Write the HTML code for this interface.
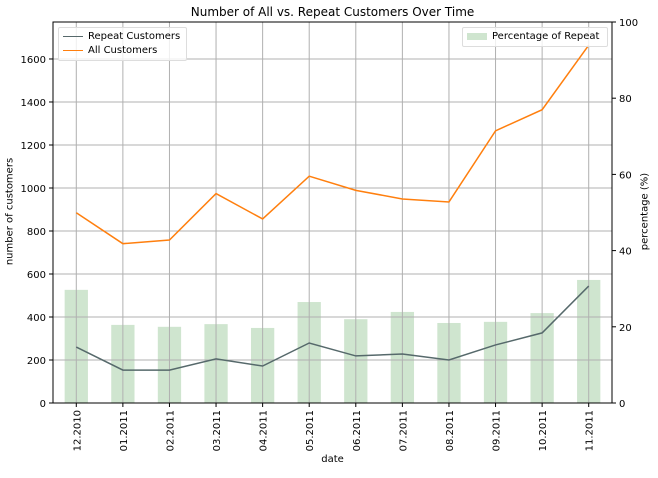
<!DOCTYPE html>
<html><head><meta charset="utf-8"><style>
body{margin:0;background:#fff;}
svg text{font-family:"DejaVu Sans","Liberation Sans",sans-serif;}
</style></head><body>
<svg id="c" width="658" height="473" xmlns="http://www.w3.org/2000/svg"></svg>
<script>
const categories=["12.2010","01.2011","02.2011","03.2011","04.2011","05.2011","06.2011","07.2011","08.2011","09.2011","10.2011","11.2011"];
const allCustomers=[885,741,758,974,856,1055,989,949,935,1266,1364,1664];
const repeatCustomers=[260,153,153,205,172,279,219,228,200,270,326,544];
const pctRepeat=[29.7,20.5,20,20.7,19.7,26.5,22,23.9,21,21.3,23.6,32.3];
const leftTicks=[0,200,400,600,800,1000,1200,1400,1600];
const rightTicks=[0,20,40,60,80,100];

const NS="http://www.w3.org/2000/svg";
const svg=document.getElementById('c');
const L=53,R=612,T=22,B=403,yMax=1772;
const band=(R-L)/categories.length;
const x=i=>L+band*(i+0.5);
const yL=v=>B-(B-T)*v/yMax;
const yR=v=>B-(B-T)*v/100;
function el(t,a,txt){const e=document.createElementNS(NS,t);for(const k in a)e.setAttribute(k,a[k]);if(txt!=null)e.textContent=txt;svg.appendChild(e);return e;}

// bars
pctRepeat.forEach((v,i)=>{
 const e=el('rect',{x:x(i)-band/4,y:yR(v),width:band/2,height:B-yR(v),fill:'#cfe5cf'});
 
 
});
// grid
categories.forEach((c,i)=>{const g=el('line',{x1:x(i),x2:x(i),y1:T,y2:B,stroke:'#b0b0b0','stroke-width':1});
 });
leftTicks.forEach(v=>{const g=el('line',{x1:L,x2:R,y1:yL(v),y2:yL(v),stroke:'#b0b0b0','stroke-width':1});
 });
// lines
function line(data,color,name){
 const p=el('polyline',{points:data.map((v,i)=>x(i)+','+yL(v)).join(' '),fill:'none',stroke:color,'stroke-width':1.5});
 
}
line(repeatCustomers,'#56696b','repeat-customers-line');
line(allCustomers,'#ff7f0e','all-customers-line');
// frame
const f=el('rect',{x:L,y:T,width:R-L,height:B-T,fill:'none',stroke:'#000','stroke-width':1});

// left ticks
leftTicks.forEach(v=>{el('line',{x1:L-4,x2:L,y1:yL(v),y2:yL(v),stroke:'#000'});
 const t=el('text',{x:L-7,y:yL(v)+4,'text-anchor':'end','font-size':10},v);
 });
rightTicks.forEach(v=>{el('line',{x1:R,x2:R+4,y1:yR(v),y2:yR(v),stroke:'#000'});
 const t=el('text',{x:R+7,y:yR(v)+4,'font-size':10},v);
 });
categories.forEach((c,i)=>{el('line',{x1:x(i),x2:x(i),y1:B,y2:B+4,stroke:'#000'});
 const t=el('text',{x:0,y:0,'text-anchor':'end','font-size':10,transform:`translate(${x(i)+4},${B+7}) rotate(-90)`},c);
 });
</script>
<div style="position:absolute;left:0;top:0;width:658px;height:473px;pointer-events:none;font-family:'DejaVu Sans','Liberation Sans',sans-serif;">
 <div style="position:absolute;left:53px;width:559px;top:5px;text-align:center;font-size:12px;">Number of All vs. Repeat Customers Over Time</div>
 <div style="position:absolute;left:53px;width:559px;top:454px;text-align:center;font-size:10px;">date</div>
 <div style="position:absolute;left:-50px;top:206px;width:120px;text-align:center;font-size:10px;transform:rotate(-90deg);">number of customers</div>
 <div style="position:absolute;left:585px;top:206px;width:120px;text-align:center;font-size:10px;transform:rotate(-90deg);">percentage (%)</div>
 <div style="position:absolute;left:58px;top:27px;width:127px;height:32px;border:1px solid #ddd;background:rgba(255,255,255,.8);border-radius:2px;font-size:10px;">
  <div style="position:absolute;left:4px;top:3px;"><span style="display:inline-block;width:20px;border-top:1.5px solid #56696b;vertical-align:middle;margin-right:5px"></span>Repeat Customers</div>
  <div style="position:absolute;left:4px;top:17px;"><span style="display:inline-block;width:20px;border-top:1.5px solid #ff7f0e;vertical-align:middle;margin-right:5px"></span>All Customers</div>
 </div>
 <div style="position:absolute;left:462px;top:27px;width:144px;height:18px;border:1px solid #ddd;background:rgba(255,255,255,.8);border-radius:2px;font-size:10px;">
  <div style="position:absolute;left:4px;top:3px;"><span style="display:inline-block;width:20px;height:7px;background:#cfe5cf;vertical-align:middle;margin-right:5px"></span>Percentage of Repeat</div>
 </div>
</div>
</body></html>
